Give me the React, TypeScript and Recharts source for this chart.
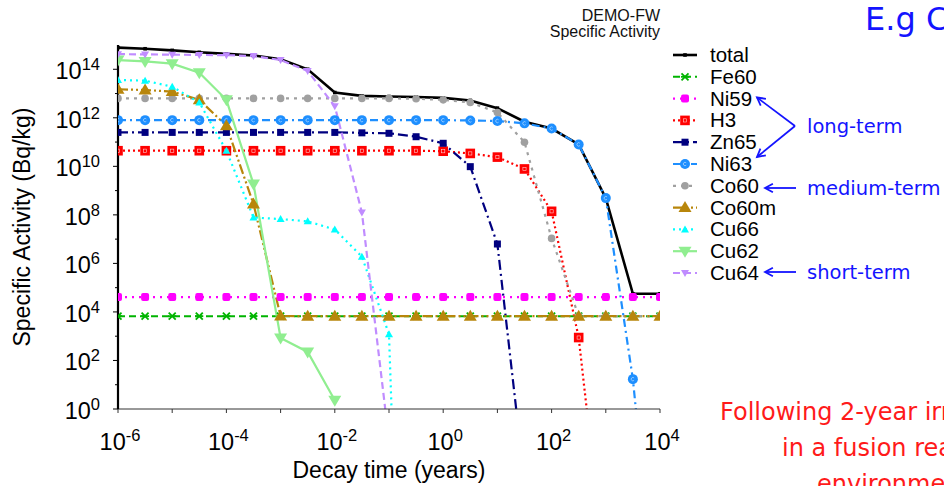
import React from "react";
import { LineChart, Line, XAxis, YAxis, Legend } from "recharts";

// decay times in years, half-decade steps
const decayYears = [
  1e-6, 3.16e-6, 1e-5, 3.16e-5, 1e-4, 3.16e-4, 1e-3, 3.16e-3, 1e-2, 3.16e-2, 0.1,
  0.316, 1, 3.16, 10, 31.6, 100, 316, 1000, 3160, 10000,
];

// specific activity, Bq/kg
const total = [
  7.8e14, 7e14, 6e14, 5e14, 4.3e14, 3.7e14, 2.6e14, 1e14, 1.1e13, 8e12, 7.5e12,
  7.2e12, 6.6e12, 5.2e12, 2.5e12, 6.9e11, 3.6e11, 8e10, 4.9e8, 5.6e4, 5.6e4,
];
const fe60 = [
  6.7e3, 6.7e3, 6.7e3, 6.7e3, 6.7e3, 6.7e3, 6.7e3, 6.7e3, 6.7e3, 6.7e3, 6.7e3,
  6.7e3, 6.7e3, 6.7e3, 6.7e3, 6.7e3, 6.7e3, 6.7e3, 6.7e3, 6.7e3, 6.7e3,
];
const ni59 = [
  4.1e4, 4.1e4, 4.1e4, 4.1e4, 4.1e4, 4.1e4, 4.1e4, 4.1e4, 4.1e4, 4.1e4, 4.1e4,
  4.1e4, 4.1e4, 4.1e4, 4.1e4, 4.1e4, 4.1e4, 4.1e4, 4.1e4, 4.1e4, 4.1e4,
];
const h3 = [
  4.4e10, 4.4e10, 4.4e10, 4.4e10, 4.4e10, 4.4e10, 4.4e10, 4.4e10, 4.4e10, 4.4e10, 4.4e10,
  4.4e10, 4.2e10, 3.4e10, 2.4e10, 7.8e9, 1.4e8, 880, 1e-7, null, null,
];
const zn65 = [
  2.5e11, 2.5e11, 2.5e11, 2.5e11, 2.5e11, 2.5e11, 2.5e11, 2.5e11, 2.5e11, 2.4e11, 2.3e11,
  1.66e11, 8.9e10, 9.7e9, 6.3e6, 1e-3, null, null, null, null, null,
];
const ni63 = [
  8e11, 8e11, 8e11, 8e11, 8e11, 8e11, 8e11, 8e11, 8e11, 8e11, 8e11,
  8e11, 8e11, 7.8e11, 7.4e11, 5.9e11, 3.6e11, 8e10, 4.9e8, 17, 1e-10,
];
const co60 = [
  6.3e12, 6.3e12, 6.3e12, 6.3e12, 6.3e12, 6.3e12, 6.3e12, 6.3e12, 6.3e12, 6.3e12, 6.3e12,
  6.1e12, 5.5e12, 4.3e12, 1.66e12, 9.8e10, 1.07e7, 6.7e3, 6.7e3, 6.7e3, 6.7e3,
];
const co60m = [
  1.5e13, 1.4e13, 1.2e13, 5.5e12, 4.7e11, 2.8e8, 6.8e3, 6.7e3, 6.7e3, 6.7e3, 6.7e3,
  6.7e3, 6.7e3, 6.7e3, 6.7e3, 6.7e3, 6.7e3, 6.7e3, 6.7e3, 6.7e3, 6.7e3,
];
const cu66 = [
  3.6e13, 3.4e13, 1.9e13, 4.3e12, 4.4e10, 7.8e7, 6.7e7, 5.4e7, 2.5e7, 1.9e6, 1.2e3,
  1e-30, null, null, null, null, null, null, null, null, null,
];
const cu62 = [
  2.4e14, 2.1e14, 1.7e14, 7.2e13, 5.5e12, 1.85e9, 850, 225, 2.3, null, null,
  null, null, null, null, null, null, null, null, null, null,
];
const cu64 = [
  4.2e14, 4.1e14, 4e14, 3.9e14, 3.8e14, 3.5e14, 2.4e14, 8.5e13, 3e12, 1.26e8, 0.05,
  null, null, null, null, null, null, null, null, null, null,
];

const xTicks = [1e-6, 1e-5, 1e-4, 1e-3, 1e-2, 1e-1, 1, 10, 100, 1000, 10000];
const yTicks = [1, 1e1, 1e2, 1e3, 1e4, 1e5, 1e6, 1e7, 1e8, 1e9, 1e10, 1e11, 1e12, 1e13, 1e14];

// minute, hour, day expressed in years
const timeMarkValues = [1.9e-6, 1.14e-4, 2.74e-3];
const timeMarkLabels = ["Min", "Hour", "Day"];
const timeMarkRise = [5, 20, 9];

const FONT = "'Liberation Sans', Arial, Helvetica, sans-serif";
const NOTE_FONT = "'DejaVu Sans', sans-serif";
const BLUE = "#1414ff";

type MarkerKind =
  | "point" | "star" | "blob" | "box" | "square" | "ring" | "dot"
  | "tri" | "triSmall" | "triDown" | "triDownSmall";

interface Series {
  key: string;
  name: string;
  values: (number | null)[];
  color: string;
  width: number;
  dash?: string;
  marker: MarkerKind;
}

const series: Series[] = [
  { key: "total", name: "total", values: total, color: "#000000", width: 2.6, marker: "point" },
  { key: "Fe60", name: "Fe60", values: fe60, color: "#00b400", width: 2, dash: "7 4", marker: "star" },
  { key: "Ni59", name: "Ni59", values: ni59, color: "#ff00ff", width: 2.2, dash: "2 5", marker: "blob" },
  { key: "H3", name: "H3", values: h3, color: "#ff0000", width: 2.2, dash: "2 3", marker: "box" },
  { key: "Zn65", name: "Zn65", values: zn65, color: "#000080", width: 2.2, dash: "10 4 2 4", marker: "square" },
  { key: "Ni63", name: "Ni63", values: ni63, color: "#1e8fff", width: 2.2, dash: "8 4 2 4", marker: "ring" },
  { key: "Co60", name: "Co60", values: co60, color: "#a0a0a0", width: 2.2, dash: "3 5", marker: "dot" },
  { key: "Co60m", name: "Co60m", values: co60m, color: "#b8860b", width: 2.2, dash: "10 3 2 3 2 3", marker: "tri" },
  { key: "Cu66", name: "Cu66", values: cu66, color: "#00ffff", width: 2.2, dash: "2 4", marker: "triSmall" },
  { key: "Cu62", name: "Cu62", values: cu62, color: "#90ee90", width: 2.2, marker: "triDown" },
  { key: "Cu64", name: "Cu64", values: cu64, color: "#c08cff", width: 2.2, dash: "7 4", marker: "triDownSmall" },
];

const rows = decayYears.map((t, i) => {
  const row: Record<string, number | null> = { t };
  series.forEach((s) => (row[s.key] = s.values[i]));
  return row;
});

function Marker({ kind, x, y, color }: { kind: MarkerKind; x: number; y: number; color: string }) {
  switch (kind) {
    case "point":
      return <rect x={x - 1.8} y={y - 1.8} width={3.6} height={3.6} fill={color} />;
    case "star":
      return (
        <g stroke={color} strokeWidth={1.8}>
          <line x1={x - 3.5} y1={y - 3.5} x2={x + 3.5} y2={y + 3.5} />
          <line x1={x - 3.5} y1={y + 3.5} x2={x + 3.5} y2={y - 3.5} />
          <line x1={x - 4} y1={y} x2={x + 4} y2={y} />
        </g>
      );
    case "blob":
      return <rect x={x - 4} y={y - 4} width={8} height={8} rx={2} fill={color} />;
    case "box":
      return (
        <g>
          <rect x={x - 4.8} y={y - 4.8} width={9.6} height={9.6} fill={color} />
          <rect x={x - 1.6} y={y - 1.6} width={3.2} height={3.2} fill="none" stroke="#ffffff" strokeWidth={0.6} opacity={0.8} />
        </g>
      );
    case "square":
      return <rect x={x - 3.5} y={y - 3.5} width={7} height={7} fill={color} />;
    case "ring":
      return (
        <g>
          <circle cx={x} cy={y} r={5} fill={color} />
          <path
            d={`M${x + 1.2},${y - 1.2} A1.7,1.7 0 1 0 ${x + 1.2},${y + 1.2}`}
            fill="none"
            stroke="#ffffff"
            strokeWidth={0.6}
            opacity={0.8}
          />
        </g>
      );
    case "dot":
      return <circle cx={x} cy={y} r={3.8} fill={color} />;
    case "tri":
      return <path d={`M${x},${y - 6.5} L${x + 6.5},${y + 4.5} L${x - 6.5},${y + 4.5} Z`} fill={color} />;
    case "triSmall":
      return <path d={`M${x},${y - 4} L${x + 4},${y + 3} L${x - 4},${y + 3} Z`} fill={color} />;
    case "triDown":
      return <path d={`M${x - 6.5},${y - 4.5} L${x + 6.5},${y - 4.5} L${x},${y + 6.5} Z`} fill={color} />;
    case "triDownSmall":
      return <path d={`M${x - 4},${y - 3} L${x + 4},${y - 3} L${x},${y + 4} Z`} fill={color} />;
  }
}

function XTick(props: any) {
  const { x, y, payload } = props;
  const e = Math.round(Math.log10(payload.value));
  return (
    <g>
      <line x1={x} x2={x} y1={y} y2={y + 4} stroke="#333" strokeWidth={1} />
      {e % 2 === 0 && (
        <text x={x + 2} y={y + 41} textAnchor="middle" fontSize={23.5} fontFamily={FONT} fill="#000">
          10<tspan dy={-9} fontSize={16.5}>{String(e)}</tspan>
        </text>
      )}
    </g>
  );
}

function YTick(props: any) {
  const { x, y, payload } = props;
  const e = Math.round(Math.log10(payload.value));
  const major = e % 2 === 0;
  return (
    <g>
      <line x1={x - (major ? 5 : 3)} x2={x} y1={y} y2={y} stroke="#000" strokeWidth={1} />
      {major && (
        <text x={x - 18} y={y + 10} textAnchor="end" fontSize={23.5} fontFamily={FONT} fill="#000">
          10<tspan dy={-9} fontSize={16.5}>{String(e)}</tspan>
        </text>
      )}
    </g>
  );
}

function TopTick(props: any) {
  const { x, y, index } = props;
  const rise = timeMarkRise[index];
  return (
    <g>
      <line x1={x} x2={x} y1={y - rise} y2={y + 7} stroke="#222" strokeWidth={1} />
      <text x={x} y={y - rise - 3} textAnchor="middle" fontSize={18} fontFamily={FONT} fill={BLUE}>
        {timeMarkLabels[index]}
      </text>
    </g>
  );
}

function LegendBox() {
  const step = 21.8;
  return (
    <svg width={130} height={245}>
      {series.map((s, i) => {
        const cy = 11 + i * step;
        return (
          <g key={s.key}>
            <line x1={5} x2={29} y1={cy} y2={cy} stroke={s.color} strokeWidth={s.width} strokeDasharray={s.dash} />
            <Marker kind={s.marker} x={17} y={cy} color={s.color} />
            <text x={42} y={cy + 7} fontSize={20.5} fontFamily={FONT} fill="#000">
              {s.name}
            </text>
          </g>
        );
      })}
    </svg>
  );
}

function arrowHead(tx: number, ty: number, fx: number, fy: number, size = 9) {
  const a = Math.atan2(fy - ty, fx - tx);
  const p1 = [tx + size * Math.cos(a + 0.5), ty + size * Math.sin(a + 0.5)];
  const p2 = [tx + size * Math.cos(a - 0.5), ty + size * Math.sin(a - 0.5)];
  return `M${p1[0]},${p1[1]} L${tx},${ty} L${p2[0]},${p2[1]}`;
}

function Notes() {
  return (
    <svg
      width={944}
      height={486}
      style={{ position: "absolute", left: 0, top: 0, pointerEvents: "none" }}
    >
      <text x={660} y={21} textAnchor="end" fontSize={16} fontFamily={FONT} fill="#111">DEMO-FW</text>
      <text x={660} y={37} textAnchor="end" fontSize={16} fontFamily={FONT} fill="#111">Specific Activity</text>

      <text x={389} y={478} textAnchor="middle" fontSize={23} fontFamily={FONT} fill="#000">
        Decay time (years)
      </text>
      <text
        x={30}
        y={227}
        textAnchor="middle"
        fontSize={23}
        fontFamily={FONT}
        fill="#000"
        transform="rotate(-90 30 227)"
      >
        Specific Activity (Bq/kg)
      </text>

      <g stroke={BLUE} strokeWidth={1.8} fill="none">
        <path d="M795,126 L757,97.5" />
        <path d={arrowHead(757, 97.5, 795, 126)} />
        <path d="M795,126 L757,157" />
        <path d={arrowHead(757, 157, 795, 126)} />
        <path d="M796,188 L765,188" />
        <path d={arrowHead(765, 188, 796, 188)} />
        <path d="M796,272 L765,272" />
        <path d={arrowHead(765, 272, 796, 272)} />
      </g>
      <text x={807} y={133} fontSize={19.5} fontFamily={NOTE_FONT} fill={BLUE}>long-term</text>
      <text x={807} y={195} fontSize={19.5} fontFamily={NOTE_FONT} fill={BLUE}>medium-term</text>
      <text x={807} y={279} fontSize={19.5} fontFamily={NOTE_FONT} fill={BLUE}>short-term</text>

      <text x={865} y={30} fontSize={32} fontFamily={NOTE_FONT} fill={BLUE}>E.g Cu</text>

      <text x={720} y={420} fontSize={24} fontFamily={NOTE_FONT} fill="#ff1a1a">Following 2-year irradiation</text>
      <text x={782} y={456} fontSize={24} fontFamily={NOTE_FONT} fill="#ff1a1a">in a fusion reactor</text>
      <text x={817} y={492} fontSize={24} fontFamily={NOTE_FONT} fill="#ff1a1a">environment</text>
    </svg>
  );
}

export default function App() {
  return (
    <div
      style={{
        position: "absolute",
        left: 0,
        top: 0,
        width: 944,
        height: 486,
        overflow: "hidden",
        background: "#fff",
        fontFamily: FONT,
      }}
    >
      <LineChart width={944} height={486} data={rows} margin={{ top: 45, right: 284, bottom: 0, left: 0 }}>
        <XAxis
          dataKey="t"
          type="number"
          scale="log"
          domain={[1e-6, 1e4]}
          allowDataOverflow
          ticks={xTicks}
          interval={0}
          height={77}
          tickSize={0}
          tickMargin={0}
          tickLine={false}
          tick={XTick}
          axisLine={{ stroke: "#333", strokeWidth: 1 }}
        />
        <XAxis
          xAxisId="top"
          orientation="top"
          dataKey="t"
          type="number"
          scale="log"
          domain={[1e-6, 1e4]}
          allowDataOverflow
          ticks={timeMarkValues}
          interval={0}
          height={0}
          tickSize={0}
          tickMargin={0}
          tickLine={false}
          tick={TopTick}
          axisLine={{ stroke: "#222", strokeWidth: 1.2 }}
        />
        <YAxis
          type="number"
          scale="log"
          domain={[1, 1e15]}
          allowDataOverflow
          ticks={yTicks}
          interval={0}
          width={118}
          tickSize={0}
          tickMargin={0}
          tickLine={false}
          tick={YTick}
          axisLine={{ stroke: "#000", strokeWidth: 2.2 }}
        />
        <YAxis
          yAxisId="right"
          orientation="right"
          type="number"
          domain={[0, 1]}
          width={0}
          tick={false}
          tickLine={false}
          axisLine={{ stroke: "#111", strokeWidth: 1.6 }}
        />
        <Legend
          layout="vertical"
          align="center"
          verticalAlign="middle"
          wrapperStyle={{ left: 668, top: 44, width: 130, height: 245 }}
          content={() => <LegendBox />}
        />
        {series.map((s) => (
          <Line
            key={s.key}
            dataKey={s.key}
            name={s.name}
            type="linear"
            stroke={s.color}
            strokeWidth={s.width}
            strokeDasharray={s.dash}
            connectNulls={false}
            isAnimationActive={false}
            activeDot={false}
            dot={(p: any) =>
              p.cy == null || p.value == null || Number.isNaN(p.cy) ? (
                <g key={`${s.key}-${p.index}`} />
              ) : (
                <Marker key={`${s.key}-${p.index}`} kind={s.marker} x={p.cx} y={p.cy} color={s.color} />
              )
            }
          />
        ))}
      </LineChart>
      <Notes />
    </div>
  );
}
